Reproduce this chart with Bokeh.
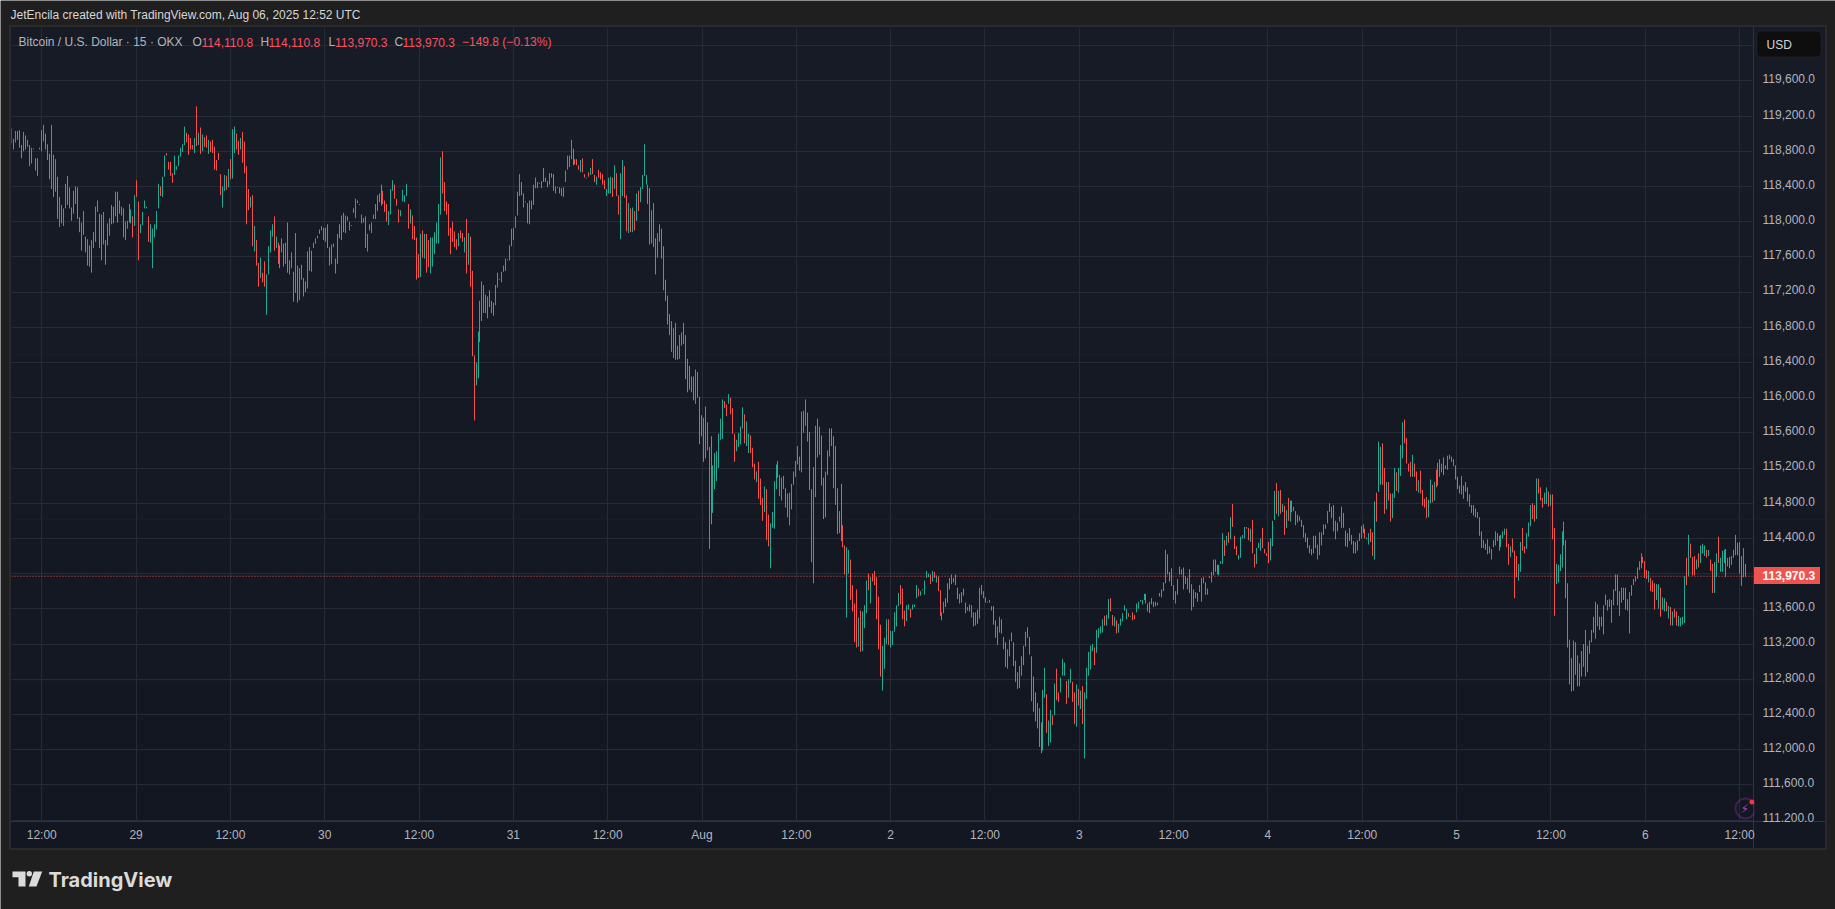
import math

from bokeh.plotting import figure
from bokeh.embed import file_html
from bokeh.resources import INLINE
from bokeh.models import (BoxAnnotation, ColumnDataSource, FixedTicker, Label, LinearAxis,
                          NumeralTickFormatter, PolyAnnotation, Range1d, Span)

# (high, low, rising) of each 15 minute bar
bars_1 = [(119060,118890,1),(118940,118820,0),(119030,118900,1),(119030,118930,0),(119040,118840,0),(118870,118720,0),(119020,118800,1),(118980,118820,0),(118930,118850,1),(118870,118630,0),(118840,118660,1),(118830,118820,1),(118720,118580,0),(118720,118520,1),(118840,118820,1),(119040,118800,1),(119100,118910,1),(119000,118820,0),(118880,118700,0),(118770,118480,0),(119100,118370,1),(118760,118280,0),(118710,118340,1),(118510,118030,0),(118280,117940,1),(118190,117980,0),(118150,117950,1),(118430,118150,1),(118520,118190,0),(118390,118150,0),(118160,118010,0),(118350,118090,1),(118400,118200,1),(118390,118030,0),(118050,117880,0),(117990,117670,1),(118120,117850,0),(117830,117650,0),(117800,117500,1),(117730,117490,0),(117790,117420,1),(117880,117700,1),(118170,117770,1),(118240,118110,1),(118090,117700,0),(118080,117560,1),(118110,117740,0),(117790,117510,0),(117980,117730,1),(118040,117840,1),(118190,117970,0),(118170,117980,0),(118340,118060,1),(118340,117990,0),(118240,118090,0),(118170,118070,1),(118150,117820,0),(118000,117790,1),(118010,117920,1),(118200,117990,0),(118140,117980,1),(118060,117820,0),(118300,117950,1),(118470,118280,0),(118230,117560,0),(117970,117870,1),(118110,117960,1),(118240,118150,1),(118170,118150,1),(118060,117770,0),(117970,117760,1),(117920,117470,1),(117970,117820,1),(118120,117910,1),(118430,118150,1),(118400,118290,0),(118510,118280,1),(118750,118510,1),(118780,118750,0),(118680,118590,0),(118680,118520,0),(118550,118440,0),(118750,118530,1),(118630,118590,1),(118750,118630,1),(118840,118740,1),(118880,118790,1),(119080,118870,1),(119010,118900,0),(118990,118760,0),(118950,118820,0),(118870,118820,0),(118950,118780,1),(119310,118860,0),(119010,118870,1),(119070,118770,0),(118990,118800,1),(118960,118850,0),(118980,118840,0),(118930,118770,1),(118910,118790,0),(118930,118780,0),(118850,118590,0),(118700,118580,0),(118780,118700,0),(118540,118300,0),(118400,118160,1),(118530,118350,1),(118520,118360,0),(118600,118390,1),(118710,118480,0),(119050,118490,1),(119080,118780,1),(119000,118820,0),(118920,118760,0),(118950,118820,1),(119020,118670,0),(118910,118550,0),(118630,117970,0),(118370,118130,0),(118280,118160,1),(118300,117720,0),(117950,117660,1),(117790,117500,0),(117530,117260,0),(117590,117360,1),(117420,117310,0),(117550,117260,0),(117400,116940,1),(117720,117400,1),(117900,117650,1),(117970,117830,1),(118060,117670,0),(117830,117700,1),(117760,117520,0),(117730,117470,0),(117810,117650,1),(117750,117490,0),(117760,117520,1),(117990,117420,0),(117560,117400,1),(117650,117470,1),(117430,117090,0),(117870,117190,1),(117500,117080,0),(117470,117110,1)]
bars_2 = [(117510,117340,0),(117360,117150,0),(117320,117200,0),(117660,117240,1),(117710,117440,0),(117670,117430,0),(117760,117700,1),(117810,117750,1),(117840,117810,1),(117910,117860,1),(117950,117900,1),(117930,117790,1),(117930,117770,0),(117970,117700,0),(117710,117500,0),(117740,117520,1),(117750,117710,1),(117580,117410,0),(117860,117520,1),(117970,117810,0),(118070,117790,1),(118100,117880,0),(118070,117870,1),(118060,118010,0),(118000,117900,0),(117960,117950,0),(118150,118100,1),(118260,118040,1),(118240,118210,0),(118200,118190,1),(118080,117980,0),(118040,117990,0),(118060,117700,0),(117860,117660,1),(117970,117900,0),(117990,117870,1),(118080,118030,1),(118200,118030,1),(118300,118120,1),(118320,118220,1),(118420,118180,0),(118350,118200,0),(118240,118110,0),(118200,118000,0),(118120,117960,1),(118370,118080,1),(118470,118350,1),(118420,118260,0),(118260,118180,0),(118140,117990,0),(118130,118060,1),(118360,118230,1),(118300,118220,1),(118430,118290,1),(118200,117920,0),(118140,117980,1),(118070,117800,0),(117950,117790,0),(117820,117340,0),(117630,117360,0),(117860,117370,1),(117900,117590,0),(117860,117580,1),(117860,117420,0),(117790,117480,0),(117820,117410,1),(117820,117490,1),(117880,117630,1),(117990,117750,1),(118200,117750,1),(118730,118080,1),(118800,118320,0),(118450,118120,0),(118230,118080,0),(118200,117840,0),(117930,117630,0),(118000,117770,0),(117890,117710,0),(117800,117680,0),(117870,117720,1),(117900,117810,0),(117870,117770,0),(117820,117650,1),(118030,117410,0),(117870,117510,1),(117830,117260,0),(117440,116470,0),(116480,115740,0),(116400,116140,1),(116750,116220,1),(117100,116630,1),(117320,116870,1),(117280,116960,0),(117170,116960,0),(117150,116900,1),(117220,117030,0),(117100,116960,0),(117080,116930,0),(117280,117050,1),(117420,117250,1),(117350,117340,1),(117430,117310,1),(117500,117430,1),(117580,117440,1),(117570,117560,1),(117730,117560,1),(117920,117720,1),(117930,117790,1),(118060,117930,1),(118340,118070,1),(118540,118290,1),(118450,118300,0),(118320,118160,0),(118230,118220,0),(118210,117980,0),(118240,117970,1),(118240,118140,0),(118420,118190,1),(118500,118380,1),(118450,118380,1),(118440,118430,1),(118460,118380,0),(118610,118450,0),(118500,118450,0),(118460,118390,0),(118550,118420,1),(118550,118500,0),(118540,118350,0),(118400,118320,1),(118390,118380,1),(118390,118320,0),(118380,118290,0),(118390,118280,1),(118580,118450,1),(118750,118590,1),(118750,118620,0),(118930,118710,1),(118830,118640,0),(118710,118650,0),(118710,118640,0),(118640,118590,0),(118700,118560,1),(118720,118560,0),(118540,118500,0),(118500,118490,1),(118560,118510,0),(118610,118530,1),(118710,118540,0),(118530,118450,0),(118510,118420,1),(118590,118500,0)]
bars_3 = [(118560,118480,0),(118540,118420,0),(118470,118370,0),(118370,118290,1),(118500,118320,1),(118510,118320,1),(118500,118280,0),(118640,118370,1),(118550,118290,0),(118300,118080,0),(118550,117800,1),(118700,118290,1),(118630,118270,0),(118300,117890,0),(118210,117870,1),(118150,117880,0),(118160,117880,1),(118120,117900,0),(118320,118010,1),(118350,118120,0),(118390,118220,1),(118530,118370,1),(118880,118520,1),(118530,118420,1),(118420,118200,0),(118380,117740,0),(118130,117750,1),(118210,117710,0),(117810,117400,0),(117870,117590,1),(117970,117770,0),(117920,117580,0),(117720,117220,0),(117340,117100,0),(117160,116830,0),(116950,116710,0),(116870,116520,0),(116790,116450,1),(116850,116430,0),(116590,116430,0),(116710,116440,1),(116740,116590,1),(116850,116610,0),(116710,116210,0),(116440,116060,0),(116360,116090,0),(116240,116060,0),(116240,115970,0),(116320,115930,1),(116290,116000,0),(116010,115470,0),(115800,115560,0),(115770,115270,0),(115900,115310,1),(115720,115400,0),(115440,114280,1),(115560,114560,0),(115230,114690,1),(115370,114960,1),(115390,115050,1),(115590,115200,1),(115760,115520,1),(115980,115530,1),(115960,115880,0),(115920,115790,0),(116040,115930,1),(116000,115810,0),(115880,115590,0),(115590,115270,0),(115520,115390,1),(115600,115440,1),(115670,115470,1),(115890,115650,1),(115810,115480,0),(115730,115450,1),(115590,115370,1),(115570,115370,0),(115430,115210,0),(115250,115070,0),(115160,115040,1),(115270,114850,0),(115080,114780,0),(114860,114600,0),(114990,114700,1),(114960,114380,0),(114670,114310,0),(114570,114060,1),(114700,114520,1),(115050,114510,1),(115240,114960,1),(115280,115090,0),(115120,114880,0),(115090,114830,1),(115110,114960,0),(114970,114750,0),(114910,114640,0),(114920,114550,1),(115020,114730,1),(115160,115010,1),(115280,115100,1),(115450,115240,1),(115330,115170,1),(115840,115150,1),(115850,115600,0),(115980,115680,1),(115830,115500,0),(115610,114950,0),(114960,114130,0),(115210,113890,1),(115680,114870,1),(115760,115320,0),(115670,115350,1),(115570,115000,0),(115090,114620,0),(115160,114640,1),(115400,115120,1),(115650,115330,1),(115650,115450,0),(115560,114970,0),(115450,114780,0),(114970,114450,0),(114710,114460,0),(115020,114370,0),(114550,114300,0),(114320,113990,0),(114300,113500,1),(114270,114000,1)]
bars_4 = [(114160,113700,0),(113870,113570,0),(113660,113220,0),(113820,113160,0),(113500,113170,1),(113580,113110,0),(113570,113120,1),(113640,113380,1),(113920,113550,1),(114000,113810,0),(113960,113660,1),(114000,113910,0),(114030,113870,0),(113960,113480,0),(113740,113140,0),(113420,112830,0),(113180,112670,1),(113270,112920,1),(113480,113200,1),(113480,113190,0),(113350,113160,1),(113350,113190,1),(113560,113340,1),(113640,113400,1),(113780,113630,1),(113870,113650,0),(113830,113480,0),(113580,113400,0),(113640,113460,1),(113650,113590,1),(113600,113500,0),(113650,113590,1),(113650,113620,1),(113870,113720,1),(113830,113740,0),(113800,113750,1),(113820,113810,1),(113920,113760,1),(114030,113950,1),(114000,113960,1),(113990,113880,0),(114030,113910,1),(114020,113950,0),(113980,113900,1),(113970,113800,0),(113810,113520,0),(113560,113470,0),(113680,113550,1),(113720,113620,0),(113890,113670,1),(113950,113820,1),(113990,113880,1),(113950,113900,0),(113990,113870,0),(113840,113710,0),(113770,113660,1),(113790,113670,1),(113830,113750,0),(113670,113550,0),(113620,113580,1),(113650,113570,0),(113640,113500,1),(113560,113400,0),(113560,113410,1),(113590,113430,0),(113840,113490,1),(113870,113760,0),(113800,113720,0),(113730,113670,1),(113680,113670,1),(113700,113670,0),(113630,113580,1),(113630,113420,0),(113470,113270,0),(113400,113190,1),(113510,113330,1),(113480,113320,0),(113280,113140,0),(113220,112940,0),(113140,112920,1),(113250,113060,1),(113330,113230,0),(113220,112950,0),(113010,112770,0),(112880,112690,1),(112950,112700,1),(113060,112840,1),(113180,112960,0),(113340,113170,1),(113390,113270,0),(113280,113080,0),(113060,112550,0),(112830,112430,0),(112650,112320,0),(112530,112240,1),(112470,112030,0),(112310,111960,0),(112680,111990,1),(112930,112590,1),(112630,112190,0),(112330,112040,1),(112450,112080,1),(112390,112280,0),(112750,112390,1),(112920,112560,0),(112650,112540,0),(112820,112650,1),(113030,112840,1),(112990,112840,1),(112780,112520,0),(112800,112590,1),(112920,112760,1),(112770,112540,0),(112650,112290,0),(112740,112260,1),(112690,112500,0),(112670,112460,1),(112720,112290,0),(112650,111900,1),(112930,112580,1),(113110,112840,1),(113180,112910,1),(113200,113120,1),(113160,112960,0),(113360,113100,1),(113380,113270,1),(113400,113320,1),(113480,113330,1),(113520,113410,0),(113530,113410,1),(113710,113490,1),(113720,113570,0),(113530,113410,0),(113510,113400,1),(113470,113320,0),(113430,113330,1),(113490,113410,1),(113550,113460,1),(113640,113580,1),(113600,113480,1),(113550,113510,0),(113520,113510,1),(113560,113470,0),(113530,113480,0),(113660,113560,1),(113680,113600,1),(113700,113680,1),(113700,113650,1),(113770,113700,1),(113770,113660,0),(113660,113570,0),(113680,113550,1)]
bars_5 = [(113720,113650,0),(113680,113620,0),(113680,113630,1),(113670,113640,0),(113780,113740,0),(113820,113730,1),(113900,113800,1),(114270,113890,1),(114220,113990,0),(114020,113910,0),(114060,113860,0),(113870,113700,0),(113800,113660,1),(113940,113760,1),(114080,113990,1),(114050,113990,1),(114070,113820,0),(113970,113880,1),(113950,113820,1),(114050,113780,0),(113880,113580,0),(113820,113620,1),(113790,113720,1),(113780,113680,0),(113870,113790,1),(113950,113680,1),(113960,113890,1),(113900,113760,0),(113830,113760,1),(113970,113950,1),(114020,113900,1),(114160,113980,1),(114160,114020,0),(114100,113990,0),(114100,113980,1),(114140,114110,1),(114460,114110,1),(114380,114200,0),(114430,114320,1),(114470,114350,0),(114640,114390,1),(114790,114530,0),(114430,114280,0),(114310,114210,0),(114210,114160,1),(114420,114180,1),(114440,114400,1),(114530,114400,1),(114530,114510,0),(114520,114380,0),(114510,114360,1),(114610,114230,0),(114220,114070,0),(114290,114110,1),(114350,114290,1),(114400,114260,1),(114520,114290,0),(114280,114230,0),(114230,114200,0),(114360,114120,0),(114400,114150,1),(114600,114310,1),(114940,114610,1),(115030,114680,0),(114940,114650,1),(114950,114680,0),(114790,114700,1),(114770,114440,0),(114720,114520,1),(114860,114600,0),(114830,114590,1),(114830,114700,0),(114760,114710,1),(114710,114550,0),(114670,114580,0),(114650,114600,1),(114610,114530,0),(114550,114410,0),(114460,114360,0),(114410,114290,0),(114320,114230,0),(114280,114210,0),(114430,114230,1),(114430,114290,0),(114330,114160,1),(114470,114210,1),(114470,114320,1),(114560,114440,1),(114560,114510,0),(114710,114570,1),(114800,114700,0),(114760,114630,0),(114780,114480,0),(114600,114390,1),(114580,114480,0),(114650,114590,1),(114760,114520,1),(114690,114520,0),(114490,114310,0),(114460,114300,1),(114520,114370,0),(114440,114330,1),(114370,114230,0),(114360,114230,1),(114380,114260,1),(114460,114370,1),(114540,114400,1),(114560,114460,0),(114510,114400,0),(114410,114390,1),(114460,114330,1),(114510,114360,0),(114470,114200,0),(114820,114160,1),(114920,114590,0),(115500,114930,1),(115440,115010,1),(115480,115010,0),(115200,114680,0),(115040,114730,1),(115040,114830,0),(114910,114590,0),(114910,114630,1),(115200,114860,1),(115150,114940,0),(115200,114920,1),(115460,115110,1),(115720,115310,1),(115750,115480,0),(115540,115250,0),(115250,115160,0),(115270,115100,0),(115350,115100,1),(115250,115100,0),(115160,114940,0),(115060,114920,1),(115170,114910,0),(114950,114770,0),(114850,114750,0),(114870,114630,0),(114840,114640,1),(115070,114800,1),(115010,114810,0),(115040,114830,1),(115180,114980,0),(115260,115000,1),(115300,115100,0),(115250,115150,1),(115320,115120,0),(115230,115190,1),(115340,115180,1),(115350,115300,1)]
bars_6 = [(115330,115270,1),(115300,115220,1),(115230,115070,0),(115100,114960,0),(115000,114910,0),(115110,114900,1),(115000,114850,0),(115040,114930,0),(114980,114820,0),(114900,114760,1),(114780,114690,0),(114780,114660,0),(114740,114640,0),(114700,114630,1),(114640,114430,0),(114480,114290,0),(114380,114290,1),(114340,114270,0),(114390,114220,1),(114310,114230,0),(114280,114160,1),(114380,114300,1),(114480,114320,1),(114460,114370,0),(114430,114260,0),(114440,114300,1),(114480,114400,1),(114510,114440,1),(114510,114300,0),(114340,114100,0),(114310,114190,1),(114400,114240,0),(114260,113720,0),(114200,113960,0),(114110,113920,1),(114360,114020,1),(114520,114260,0),(114310,114230,0),(114460,114280,1),(114580,114420,1),(114780,114540,1),(114800,114620,0),(114780,114590,0),(115080,114620,1),(115080,114910,0),(114980,114830,0),(114860,114750,0),(114920,114790,1),(114980,114790,1),(114930,114760,0),(114900,114770,1),(114900,114390,0),(114520,113520,0),(114110,113880,1),(114100,113900,1),(114220,114030,1),(114480,114070,1),(114590,114320,1),(114380,113720,0),(113890,113160,0),(113250,112740,0)]
bars_7 = [(113040,112660,1),(113240,112670,1),(113220,112850,0),(113070,112720,0),(112980,112720,1),(113120,112830,1),(113200,112940,1),(113360,112830,0),(113180,112880,1),(113240,113090,1),(113360,113220,1),(113510,113330,0),(113680,113260,1),(113650,113400,0),(113510,113360,0),(113510,113400,0),(113640,113310,1),(113760,113640,0),(113700,113580,1),(113710,113620,1),(113700,113440,1),(113820,113640,1),(113990,113800,1),(113990,113640,0),(113800,113520,1),(113840,113670,1),(113840,113700,0),(113840,113590,0),(113710,113580,0),(113790,113320,1),(113870,113750,1),(113940,113870,1),(113970,113910,1),(114070,113940,1),(114140,114040,0),(114230,114060,1),(114190,114120,0),(114140,113950,0),(114040,113940,0),(114030,113900,1),(113950,113800,0),(113920,113790,0),(113890,113590,0),(113880,113700,1),(113880,113600,1),(113840,113510,0),(113730,113590,1),(113720,113570,1),(113680,113570,0),(113630,113490,1),(113620,113410,0),(113570,113410,1),(113600,113500,0),(113570,113410,0),(113520,113400,1),(113500,113400,1),(113510,113420,1),(113970,113440,1),(114180,113870,0),(114440,113970,1),(114340,114180,0),(114190,113980,0),(114200,113980,0),(114160,114050,1),(114230,114070,0),(114320,114120,1),(114340,114230,1),(114320,114200,1),(114270,114180,0),(114270,114200,1),(114160,114030,0),(114110,113780,0),(114130,113780,1),(114230,113960,1),(114420,114120,0),(114180,114020,1),(114260,114020,1),(114270,114120,1),(114280,113960,0),(114180,114080,1),(114190,114060,0),(114200,114100,1),(114270,114180,1),(114440,114210,1),(114350,114210,0),(114360,114000,0),(114200,113860,1),(114290,113960,1),(114110,113960,0)]

# slot on the time axis at which each group above starts (last value: after the last bar)
group_slots = [0, 147.6, 299.7, 427.0, 580.2, 732.8, 793.9, 883.4]

price_ticks = [111200, 111600, 112000, 112400, 112800, 113200, 113600, 114400,
               114800, 115200, 115600, 116000, 116400, 116800, 117200, 117600, 118000,
               118400, 118800, 119200, 119600]
grid_prices = price_ticks + [114000, 120000]
time_labels = ["12:00", "29", "12:00", "30", "12:00", "31", "12:00", "Aug", "12:00", "2",
               "12:00", "3", "12:00", "4", "12:00", "5", "12:00", "6", "12:00"]
first_tick_bar = 15
bars_per_half_day = 48
last_close = 113970.3

UP, DOWN = "#22ab94", "#f6504f"
FONT = "Liberation Sans"
W, H = 1835, 909

# frame geometry of the chart
LEFT, RIGHT, TOP, BOTTOM = 11, 1754, 27, 821
X0, X1 = -0.4, 886.6
Y0, Y1 = 111183, 120206
SCALE = (RIGHT - LEFT) / (X1 - X0)
LABEL_LIFT = 23  # the price labels sit about 2px above their grid lines


def crisp(slot):
    """Slot nudged so that a 1px bar lands on one pixel column, as on the original chart."""
    column_px = math.floor(LEFT + 0.3 + slot * SCALE + 0.5)
    return (column_px - LEFT) / SCALE + X0


xs, highs, lows, colors = [], [], [], []
groups = [bars_1, bars_2, bars_3, bars_4, bars_5, bars_6, bars_7]
for k, group in enumerate(groups):
    step = (group_slots[k + 1] - group_slots[k]) / len(group)
    for j, (high, low, rising) in enumerate(group):
        xs.append(crisp(group_slots[k] + j * step))
        highs.append(high)
        lows.append(low)
        colors.append(UP if rising else DOWN)
source = ColumnDataSource(dict(x=xs, high=highs, low=lows, color=colors))

tick_bars = [first_tick_bar + bars_per_half_day * k for k in range(len(time_labels))]


def sheet(fill):
    """A page sized figure whose frame is the page, so that it can hold the chrome of the chart."""
    f = figure(width=W, height=H, output_backend="svg", toolbar_location=None,
               x_range=Range1d(0, W), y_range=Range1d(H, 0),
               x_axis_location=None, y_axis_location=None,
               min_border=0, min_border_left=0, min_border_right=0, min_border_top=0,
               min_border_bottom=0, border_fill_color=fill, background_fill_color=fill,
               outline_line_color=None)
    f.grid.visible = False
    return f


def box(f, l, t, r, b, fill, line=None, width=1, radius=0, level="image"):
    f.add_layout(BoxAnnotation(left=l - 0.5, right=r - 0.5, top=t - 0.5, bottom=b - 0.5,
                               fill_color=fill, fill_alpha=1, line_color=line, line_width=width,
                               border_radius=radius, level=level, editable=False))


def note(f, x, y, text, color, size=12, style="normal", font=FONT):
    f.add_layout(Label(x=x, y=y, text=text, text_color=color, text_font=font,
                       text_font_size=f"{size}px", text_font_style=style,
                       text_baseline="middle", text_align="left"))


def poly(f, xs_, ys_, fill):
    f.add_layout(PolyAnnotation(xs=xs_, ys=ys_, fill_color=fill, fill_alpha=1, line_color=None,
                                level="image", editable=False))


# ---- back sheet: page, panes, texts round the chart
back = sheet("#1f1f1f")
box(back, 9, 25, 1827, 850, "#2a2a2a")
bands = ["#171b26", "#161a25", "#151924", "#141823", "#131722"]
for k, c in enumerate(bands):
    box(back, 11, 27 + 164.2 * k, 1825, 27 + 164.2 * (k + 1), c)
box(back, 1753, 27, 1754, 848, "#2f333e")
box(back, 11, 821, 1825, 822, "#2f333e")

box(back, 1754, 567, 1820, 584, "#ef5350")
note(back, 1762, 575, "113,970.3", "#ffffff", style="bold")
box(back, 1757, 31, 1821, 57, "#0e0e0e", line="#3a3a3e", radius=4)
note(back, 1766, 44.5, "USD", "#d1d4dc")

note(back, 10, 14.5, "JetEncila created with TradingView.com, Aug 06, 2025 12:52 UTC", "#d6d6d6", size=12)

LOGO = "#dbdbdb"
poly(back, [12, 25, 25, 18, 18, 12], [871, 871, 886, 886, 876.7, 876.7], LOGO)
box(back, 26.6, 871, 32, 876.4, LOGO, radius=3)
poly(back, [33.3, 41.7, 36, 28.3], [871, 871, 886, 886], LOGO)
note(back, 48, 879, "TradingView", LOGO, size=20, style="bold", font="Inter")

# ---- the chart itself, see-through, over the back sheet
p = figure(width=W, height=H, output_backend="svg", toolbar_location=None,
           y_axis_location=None,
           x_range=Range1d(X0, X1), y_range=Range1d(Y0, Y1),
           min_border_left=LEFT, min_border_right=W - RIGHT, min_border_top=TOP,
           min_border_bottom=H - BOTTOM,
           border_fill_color=None, background_fill_color=None, outline_line_color=None)
p.margin = (-H, 0, 0, 0)
p.extra_y_ranges = {"labels": Range1d(Y0 - LABEL_LIFT, Y1 - LABEL_LIFT)}

p.xgrid.ticker = FixedTicker(ticks=tick_bars)
p.ygrid.ticker = FixedTicker(ticks=grid_prices)
p.grid.grid_line_color = "#262b38"
p.grid.grid_line_width = 1

p.segment("x", "low", "x", "high", source=source, color="color", line_width=1)

p.add_layout(Span(location=last_close, dimension="width", line_color=DOWN, line_width=1,
                  line_dash="1 2", level="glyph"))

ya = LinearAxis(y_range_name="labels")
ya.ticker = FixedTicker(ticks=price_ticks)
ya.formatter = NumeralTickFormatter(format="0,0.0")
ya.axis_line_color = None
ya.major_tick_line_color = None
ya.minor_tick_line_color = None
ya.major_tick_out = 0
ya.major_label_standoff = 8
ya.major_label_text_color = "#b2b5be"
ya.major_label_text_font = FONT
ya.major_label_text_font_size = "12px"
p.add_layout(ya, "right")

xa = p.xaxis[0]
xa.ticker = FixedTicker(ticks=tick_bars)
xa.major_label_overrides = dict(zip(tick_bars, time_labels))
xa.axis_line_color = None
xa.major_tick_line_color = None
xa.minor_tick_line_color = None
xa.major_tick_out = 0
xa.major_label_standoff = 6
xa.major_label_text_color = "#b2b5be"
xa.major_label_text_font = FONT
xa.major_label_text_font_size = "12px"

# alert badge, cut by the edge of the frame like the original
p.add_layout(BoxAnnotation(left=1735, right=1755, top=798, bottom=818, left_units="canvas",
                           right_units="canvas", top_units="canvas", bottom_units="canvas",
                           fill_color=None, line_color="#a038b5", line_width=2, border_radius=10,
                           level="annotation", editable=False))
p.add_layout(BoxAnnotation(left=1749, right=1754, top=799, bottom=804, left_units="canvas",
                           right_units="canvas", top_units="canvas", bottom_units="canvas",
                           fill_color="#f23645", fill_alpha=1, line_color=None, border_radius=3,
                           level="annotation", editable=False))
p.add_layout(Label(x=1740, y=808.5, x_units="canvas", y_units="canvas", text="⚡",
                   text_color="#ab47bc", text_font="DejaVu Sans", text_font_size="12px",
                   text_baseline="middle"))

# ---- front sheet: legend over the grid; cuts the lowest price label at the end of the pane
front = sheet(None)
front.margin = (-H, 0, 0, 0)
box(front, 1755, 822, 1824, 832, "#131722")
GREY, RED = "#b2b5be", "#f7525f"
note(front, 18, 41.5, "Bitcoin / U.S. Dollar · 15 · OKX", GREY)
for x, t, c in [(192, "O", GREY), (201, "114,110.8", RED), (260, "H", GREY), (268, "114,110.8", RED),
                (328, "L", GREY), (334.5, "113,970.3", RED), (394, "C", GREY), (402, "113,970.3", RED),
                (461.5, "−149.8 (−0.13%)", RED)]:
    note(front, x, 41.5, t, c)

open("out.html", "w").write(file_html([back, p, front], INLINE))
